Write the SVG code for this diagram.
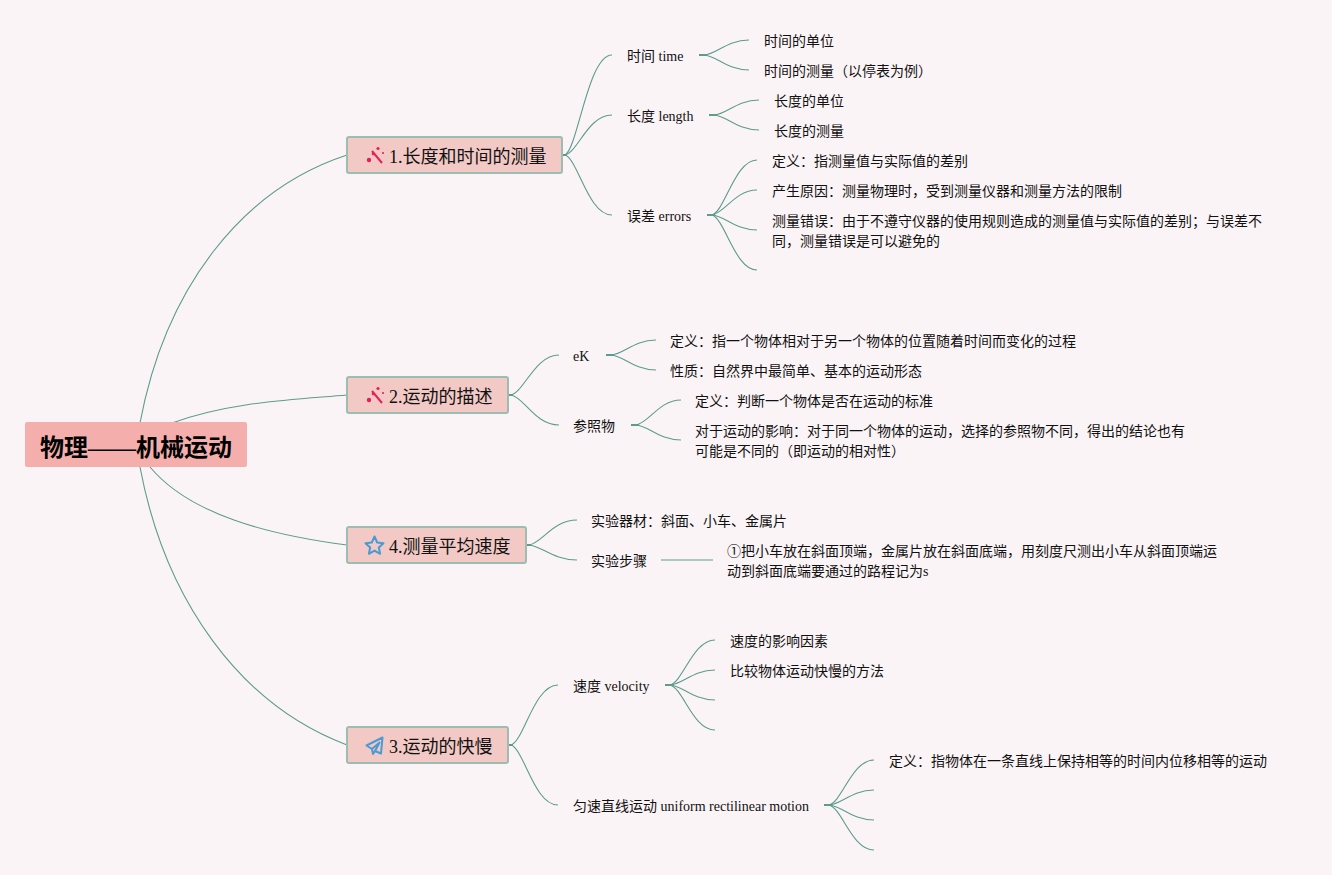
<svg xmlns="http://www.w3.org/2000/svg" width="1332" height="875" viewBox="0 0 1332 875">
<style>
text{font-family:"Liberation Serif","Noto Sans CJK SC",serif;fill:#111}
.l{font-size:14px}
.b{font-size:18px}
.r{font-size:24px;font-weight:700;fill:#000}
.c{fill:none;stroke:#5c9c8c;stroke-width:1.1}
.s{fill:none;stroke:#5c9c8c;stroke-width:2}
.box{fill:#f2c9c5;stroke:#9dbdb2;stroke-width:2}
.w{stroke:#e6205a;stroke-width:2;fill:none}
.wf{fill:#e6205a}
.i{fill:none;stroke:#4a9ad4;stroke-width:2;stroke-linejoin:round}
</style>
<rect width="1332" height="875" fill="#fbf4f6"/>
<g id="connectors">
<path class="c" d="M140 423C165 290 240 190 347 155"/>
<path class="c" d="M172 423C230 402 290 400 347 395"/>
<path class="c" d="M150 467C190 515 270 535 347 545"/>
<path class="c" d="M140 467C165 600 240 705 347 745"/>
<path class="s" d="M563 155h4M509 395h4M527 545h4M509 745h4M699 55h8M709 115h8M707 215h8M606 355h8M631 425h8M665 685h8M824 805h8"/>
<path class="c" d="M565 155C578 148 588 55 612 55"/>
<path class="c" d="M565 155C578 152 588 115 612 115"/>
<path class="c" d="M565 155C578 159 588 215 612 215"/>
<path class="c" d="M704 55C717 54 727 40 749 40"/>
<path class="c" d="M704 55C717 56 727 70 749 70"/>
<path class="c" d="M714 115C727 114 737 100 759 100"/>
<path class="c" d="M714 115C727 116 737 130 759 130"/>
<path class="c" d="M712 215C725 211 735 160 757 160"/>
<path class="c" d="M712 215C725 213 735 190 757 190"/>
<path class="c" d="M712 215C725 216 735 230 757 230"/>
<path class="c" d="M712 215C725 219 735 270 757 270"/>
<path class="c" d="M511 395C524 392 535 355 559 355"/>
<path class="c" d="M511 395C524 397 535 425 559 425"/>
<path class="c" d="M611 355C624 354 634 340 656 340"/>
<path class="c" d="M611 355C624 356 634 370 656 370"/>
<path class="c" d="M636 425C649 423 659 400 681 400"/>
<path class="c" d="M636 425C649 426 659 440 681 440"/>
<path class="c" d="M529 545C542 543 553 520 577 520"/>
<path class="c" d="M529 545C542 546 553 560 577 560"/>
<path class="c" d="M661 560H713"/>
<path class="c" d="M511 745C524 741 534 685 558 685"/>
<path class="c" d="M511 745C524 749 534 805 558 805"/>
<path class="c" d="M670 685C683 682 693 640 715 640"/>
<path class="c" d="M670 685C683 684 693 670 715 670"/>
<path class="c" d="M670 685C683 686 693 700 715 700"/>
<path class="c" d="M670 685C683 688 693 730 715 730"/>
<path class="c" d="M829 805C842 802 852 760 874 760"/>
<path class="c" d="M829 805C842 804 852 790 874 790"/>
<path class="c" d="M829 805C842 806 852 820 874 820"/>
<path class="c" d="M829 805C842 808 852 850 874 850"/>
</g>
<g id="root"><rect x="25" y="422" width="222" height="45" rx="2" fill="#f4aeab"/><text class="r" x="40" y="456">物理——机械运动</text></g>
<g id="n1"><rect class="box" x="347" y="137" width="215" height="36" rx="2"/>
<path class="w" d="M372 151L382 163"/><circle class="wf" cx="369" cy="160" r="2.200"/><circle class="wf" cx="378" cy="148.500" r="1.600"/><circle class="wf" cx="373" cy="154" r="1.300"/><circle class="wf" cx="383" cy="153" r="1.100"/>
<text class="b" x="389" y="162.500">1.长度和时间的测量</text></g>
<g id="n2"><rect class="box" x="347" y="377" width="161" height="36" rx="2"/>
<path class="w" d="M372 391L382 403"/><circle class="wf" cx="369" cy="400" r="2.200"/><circle class="wf" cx="378" cy="388.500" r="1.600"/><circle class="wf" cx="373" cy="394" r="1.300"/><circle class="wf" cx="383" cy="393" r="1.100"/>
<text class="b" x="389" y="402.500">2.运动的描述</text></g>
<g id="n4"><rect class="box" x="347" y="527" width="179" height="36" rx="2"/>
<path class="i" d="M374.500 536.500L377.200 542.500L383.500 543.200L378.800 547.500L380.100 553.800L374.500 550.600L368.900 553.800L370.200 547.500L365.500 543.200L371.800 542.500Z"/>
<text class="b" x="389" y="552.500">4.测量平均速度</text></g>
<g id="n3"><rect class="box" x="347" y="727" width="161" height="36" rx="2"/>
<path class="i" d="M382.500 737.500L366.500 745.500L372 749L379.500 742.500L375 751L381 753.500ZM372 749L373 754L375 751"/>
<text class="b" x="389" y="752.500">3.运动的快慢</text></g>
<g id="t11"><text class="l" x="627" y="61">时间 time</text></g>
<g id="t12"><text class="l" x="627" y="121">长度 length</text></g>
<g id="t13"><text class="l" x="627" y="221">误差 errors</text></g>
<g id="t111"><text class="l" x="764" y="46">时间的单位</text></g>
<g id="t112"><text class="l" x="764" y="76">时间的测量（以停表为例）</text></g>
<g id="t121"><text class="l" x="774" y="106">长度的单位</text></g>
<g id="t122"><text class="l" x="774" y="136">长度的测量</text></g>
<g id="t131"><text class="l" x="772" y="166">定义：指测量值与实际值的差别</text></g>
<g id="t132"><text class="l" x="772" y="196">产生原因：测量物理时，受到测量仪器和测量方法的限制</text></g>
<g id="t133"><text class="l" x="772" y="226">测量错误：由于不遵守仪器的使用规则造成的测量值与实际值的差别；与误差不</text><text class="l" x="772" y="246">同，测量错误是可以避免的</text></g>
<g id="t21"><text class="l" x="573" y="361">eK</text></g>
<g id="t22"><text class="l" x="573" y="431">参照物</text></g>
<g id="t211"><text class="l" x="670" y="346">定义：指一个物体相对于另一个物体的位置随着时间而变化的过程</text></g>
<g id="t212"><text class="l" x="670" y="376">性质：自然界中最简单、基本的运动形态</text></g>
<g id="t221"><text class="l" x="695" y="406">定义：判断一个物体是否在运动的标准</text></g>
<g id="t222"><text class="l" x="695" y="436">对于运动的影响：对于同一个物体的运动，选择的参照物不同，得出的结论也有</text><text class="l" x="695" y="456">可能是不同的（即运动的相对性）</text></g>
<g id="t41"><text class="l" x="591" y="526">实验器材：斜面、小车、金属片</text></g>
<g id="t42"><text class="l" x="591" y="566">实验步骤</text></g>
<g id="t421"><text class="l" x="727" y="556">①把小车放在斜面顶端，金属片放在斜面底端，用刻度尺测出小车从斜面顶端运</text><text class="l" x="727" y="576">动到斜面底端要通过的路程记为s</text></g>
<g id="t31"><text class="l" x="573" y="691">速度 velocity</text></g>
<g id="t32"><text class="l" x="573" y="811">匀速直线运动 uniform rectilinear motion</text></g>
<g id="t311"><text class="l" x="730" y="646">速度的影响因素</text></g>
<g id="t312"><text class="l" x="730" y="676">比较物体运动快慢的方法</text></g>
<g id="t321"><text class="l" x="889" y="766">定义：指物体在一条直线上保持相等的时间内位移相等的运动</text></g>
</svg>
